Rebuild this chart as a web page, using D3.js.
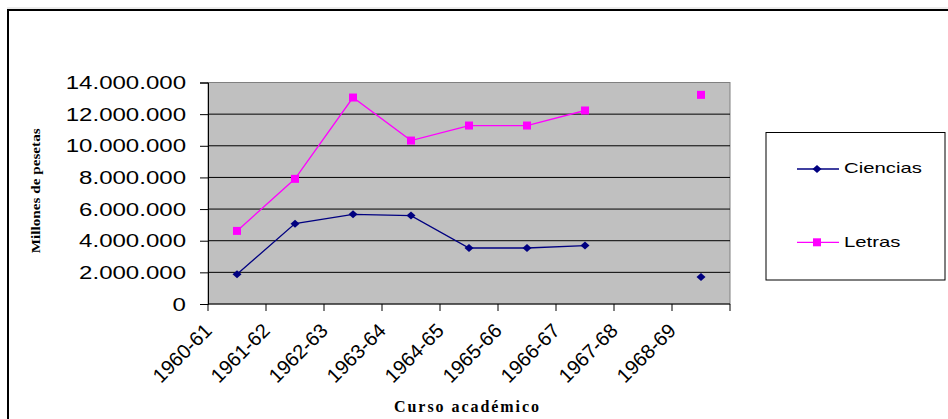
<!DOCTYPE html>
<html><head><meta charset="utf-8">
<script src="https://cdn.jsdelivr.net/npm/d3@7"></script>
<style>html,body{margin:0;padding:0;background:#fff;overflow:hidden}</style>
</head><body>
<svg id="c" width="948" height="419"></svg>
<script>
const categories = ["1960-61","1961-62","1962-63","1963-64","1964-65","1965-66","1966-67","1967-68","1968-69"];
const ciencias = [1880000, 5080000, 5670000, 5590000, 3540000, 3540000, 3690000, null, 1710000];
const letras   = [4620000, 7910000, 13050000, 10330000, 11280000, 11280000, 12230000, null, 13220000];
const yTicks = [0, 2000000, 4000000, 6000000, 8000000, 10000000, 12000000, 14000000];
const seriesNames = ["Ciencias", "Letras"];

const svg = d3.select("#c");
const L = 208, R = 730, T = 82.5, B = 304;

// outer border
svg.append("line").attr("x1",7).attr("x2",960).attr("y1",8).attr("y2",8).attr("stroke","#d8d8d8").attr("stroke-width",1);
svg.append("rect").attr("x",8).attr("y",10).attr("width",960).attr("height",430)
  .attr("fill","none").attr("stroke","#000").attr("stroke-width",2);

const x = d3.scaleBand().domain(categories).range([L, R]).padding(0);
const y = d3.scaleLinear().domain([0, 14000000]).range([B, T]);

// plot area
svg.append("rect").attr("x",L).attr("y",T).attr("width",R-L).attr("height",B-T)
  .attr("fill","#C0C0C0").attr("stroke","#808080").attr("stroke-width",1);

// gridlines
svg.append("g").selectAll("line").data(yTicks.filter(d=>d>0 && d<14000000)).join("line")
  .attr("x1",L).attr("x2",R).attr("y1",d=>y(d)).attr("y2",d=>y(d))
  .attr("stroke","#000").attr("stroke-width",1);

// y axis
const fmt = d => d3.format(",")(d).replace(/,/g, ".");
const yAxis = d3.axisLeft(y).tickValues(yTicks).tickSize(8).tickFormat("");
const gy = svg.append("g").attr("transform",`translate(${L},0)`).call(yAxis);
gy.selectAll("path,line").attr("stroke","#000");
svg.append("g").selectAll("text").data(yTicks).join("text")
  .attr("transform", d => `translate(186,${y(d)+6.6}) scale(1.3,1)`)
  .attr("text-anchor","end")
  .attr("font-family","Liberation Sans, Arial, sans-serif")
  .attr("font-size",18.5).attr("fill","#000").text(fmt);

// x axis
const tickPos = categories.map(c => x(c)).concat([R]);
svg.append("line").attr("x1",L).attr("x2",R).attr("y1",B).attr("y2",B).attr("stroke","#000");
svg.append("g").selectAll("line").data(tickPos).join("line")
  .attr("x1",d=>d).attr("x2",d=>d).attr("y1",B).attr("y2",B+7).attr("stroke","#000");
svg.append("g").selectAll("text").data(categories).join("text")
  .attr("transform", d => `translate(${x(d)+5},332) rotate(-45)`)
  .attr("text-anchor","end")
  .attr("font-family","Liberation Sans, Arial, sans-serif")
  .attr("font-size",20).attr("fill","#000").text(d=>d);

// axis titles
svg.append("text").attr("transform","translate(40,190.8) rotate(-90)")
  .attr("text-anchor","middle").attr("font-family","Liberation Serif, Times New Roman, serif")
  .attr("font-weight","bold").attr("font-size",13)
  .attr("textLength",125).attr("lengthAdjust","spacingAndGlyphs").text("Millones de pesetas");
svg.append("text").attr("x",466.5).attr("y",412)
  .attr("text-anchor","middle").attr("font-family","Liberation Serif, Times New Roman, serif")
  .attr("font-weight","bold").attr("font-size",16)
  .attr("textLength",145).attr("lengthAdjust","spacing").text("Curso académico");

// series
const cx = c => x(c) + x.bandwidth()/2;
const colors = {Ciencias:"#000080", Letras:"#FF00FF"};
const line = d3.line().defined(d => d.v !== null).x(d => cx(d.c)).y(d => y(d.v));
const data = {
  Ciencias: categories.map((c,i)=>({c, v: ciencias[i]})),
  Letras: categories.map((c,i)=>({c, v: letras[i]}))
};
const diamond = (px,py) => `M${px},${py-4}L${px+4.5},${py}L${px},${py+4}L${px-4.5},${py}Z`;

seriesNames.forEach(name => {
  svg.append("path").datum(data[name]).attr("d", line)
    .attr("fill","none").attr("stroke",colors[name]).attr("stroke-width",1.3);
});
svg.append("g").selectAll("path").data(data.Ciencias.filter(d=>d.v!==null)).join("path")
  .attr("d", d => diamond(cx(d.c), y(d.v))).attr("fill","#000080");
svg.append("g").selectAll("rect").data(data.Letras.filter(d=>d.v!==null)).join("rect")
  .attr("x", d => cx(d.c)-4).attr("y", d => y(d.v)-4).attr("width",8).attr("height",8)
  .attr("fill","#FF00FF");

// legend
svg.append("rect").attr("x",766).attr("y",132.5).attr("width",179).attr("height",147.5)
  .attr("fill","#fff").attr("stroke","#000").attr("stroke-width",1);
const legY = {Ciencias:169, Letras:242.3};
seriesNames.forEach(name => {
  const ly = legY[name];
  svg.append("line").attr("x1",797).attr("x2",839).attr("y1",ly).attr("y2",ly)
    .attr("stroke",colors[name]).attr("stroke-width",1.3);
  if (name === "Ciencias") svg.append("path").attr("d", diamond(817, ly)).attr("fill",colors[name]);
  else svg.append("rect").attr("x",813).attr("y",ly-4).attr("width",8).attr("height",8).attr("fill",colors[name]);
  svg.append("text").attr("transform",`translate(844,${ly+4.3}) scale(1.32,1)`)
    .attr("font-family","Liberation Sans, Arial, sans-serif").attr("font-size",15.4)
    .attr("fill","#000").text(name);
});
</script>
</body></html>
